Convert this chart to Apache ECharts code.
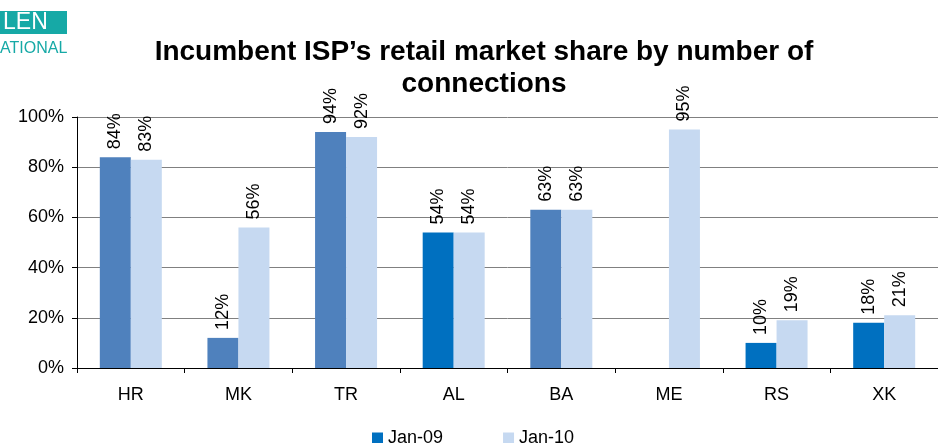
<!DOCTYPE html>
<html>
<head>
<meta charset="utf-8">
<script src="https://cdn.jsdelivr.net/npm/echarts@6/dist/echarts.min.js"></script>
<style>
  html, body { margin: 0; padding: 0; background: #fff; }
  #chart { width: 938px; height: 443px; }
</style>
</head>
<body>
<div id="chart"></div>
<script>
  const countries = ['HR', 'MK', 'TR', 'AL', 'BA', 'ME', 'RS', 'XK']
  const jan09 = [84, 12, 94, 54, 63, null, 10, 18]
  const jan10 = [83, 56, 92, 54, 63, 95, 19, 21]
  const yTicks = [0, 20, 40, 60, 80, 100]
  // some Jan-09 bars are drawn in the brighter blue
  const jan09Bright = ['AL', 'RS', 'XK']

  const steel = '#4F81BD'
  const bright = '#0070C0'
  const pale = '#C6D9F1'

  const labelStyle = {
    show: true,
    position: 'top',
    rotate: 90,
    align: 'left',
    verticalAlign: 'middle',
    distance: 8,
    fontFamily: 'Liberation Sans, Arial',
    fontSize: 18,
    color: '#000',
    formatter: p => p.value == null ? '' : p.value + '%'
  }

  let chart = echarts.init(document.getElementById('chart'))
  chart.setOption({
    animation: false,
    textStyle: { fontFamily: 'Liberation Sans, Arial' },
    title: {
      text: 'Incumbent ISP\u2019s retail market share by number of\nconnections',
      left: 479,
      top: 31,
      textAlign: 'center',
      textStyle: { fontSize: 28, fontWeight: 'bold', color: '#000', lineHeight: 32 }
    },
    graphic: [
      { type: 'rect', shape: { x: 0, y: 11, width: 67, height: 23 }, style: { fill: '#16A9A6' } },
      { type: 'text', x: 3, y: 11, style: { text: 'LEN', fill: '#fff', font: '23px Liberation Sans' } },
      { type: 'text', x: 0, y: 41, style: { text: 'ATIONAL', fill: '#16A9A6', font: '16px Liberation Sans' } }
    ],
    legend: {
      top: 424,
      left: 367,
      itemGap: 60,
      itemWidth: 11,
      itemHeight: 11,
      icon: 'rect',
      textStyle: { fontSize: 18, color: '#000', lineHeight: 18 },
      data: [
        { name: 'Jan-09', itemStyle: { color: bright } },
        { name: 'Jan-10', itemStyle: { color: pale } }
      ]
    },
    grid: { left: 77, top: 117, width: 870, height: 251, containLabel: false },
    xAxis: {
      type: 'category',
      data: countries,
      axisLine: { lineStyle: { color: '#000' } },
      axisTick: { show: true, length: 5, lineStyle: { color: '#000' } },
      axisLabel: { color: '#000', fontSize: 18, margin: 18 }
    },
    yAxis: {
      type: 'value',
      min: 0,
      max: 100,
      interval: 20,
      axisLine: { show: true, lineStyle: { color: '#000' } },
      axisTick: { show: true, length: 5, lineStyle: { color: '#000' } },
      axisLabel: { color: '#000', fontSize: 18, margin: 13, formatter: v => yTicks.includes(v) ? v + '%' : '' },
      splitLine: { lineStyle: { color: '#808080' } }
    },
    series: [
      {
        name: 'Jan-09',
        type: 'bar',
        barWidth: 31,
        barGap: '0%',
        data: jan09.map((v, i) => ({
          value: v,
          itemStyle: { color: jan09Bright.includes(countries[i]) ? bright : steel }
        })),
        label: labelStyle
      },
      {
        name: 'Jan-10',
        type: 'bar',
        barWidth: 31,
        data: jan10,
        itemStyle: { color: pale },
        label: labelStyle
      }
    ]
  })
</script>
</body>
</html>
